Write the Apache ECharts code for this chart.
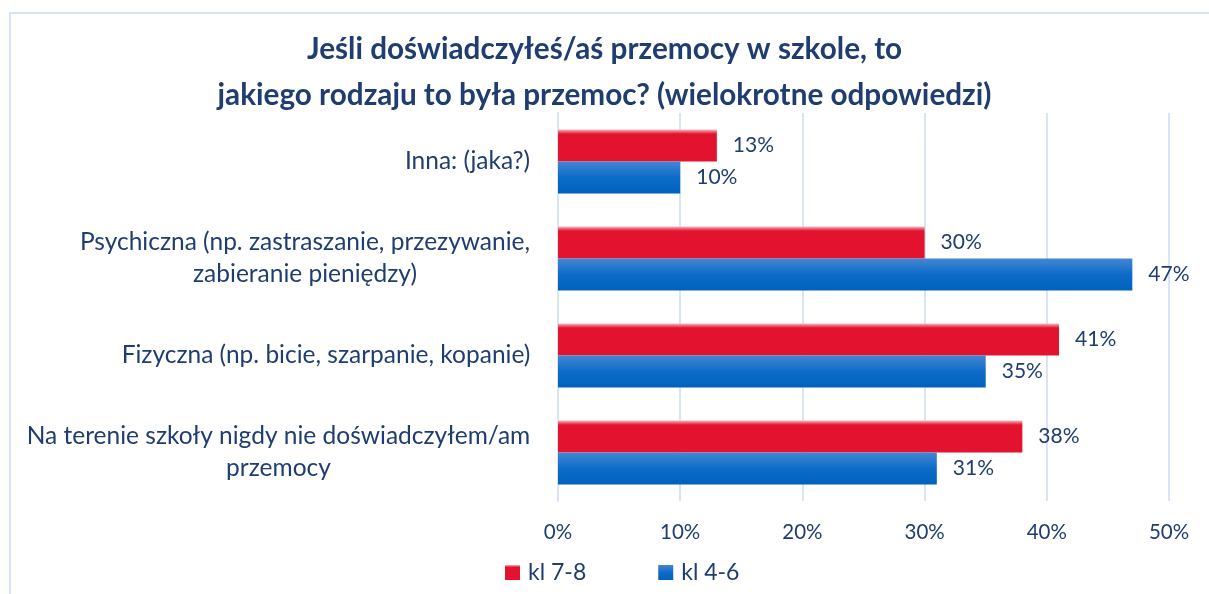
<!DOCTYPE html>
<html>
<head>
<meta charset="utf-8">
<script src="https://cdn.jsdelivr.net/npm/echarts@6/dist/echarts.min.js"></script>
<style>
  html, body { margin: 0; padding: 0; background: #fff; }
  #chart { width: 1209px; height: 594px; }
</style>
</head>
<body>
<div id="chart"></div>
<script>
// categories top -> bottom
const categories = [
  'Inna: (jaka?)',
  'Psychiczna (np. zastraszanie, przezywanie,\nzabieranie pieniędzy)',
  'Fizyczna (np. bicie, szarpanie, kopanie)',
  'Na terenie szkoły nigdy nie doświadczyłem/am\nprzemocy'
]
const kl78 = [13, 30, 41, 38]
const kl46 = [10, 47, 35, 31]
const seriesNames = ['kl 7-8', 'kl 4-6']

const textColor = '#1F3D70'
const labelFont = 'Lato'
const labelSize = 24.5

// two-line labels: lines centred on each other, block right-aligned
let ctx = document.createElement('canvas').getContext('2d')
ctx.font = labelSize + 'px ' + labelFont
let rich = {}
categories.forEach((c, i) => {
  let w = Math.max(...c.split('\n').map(l => ctx.measureText(l).width))
  rich['c' + i] = { width: Math.ceil(w) + 1, align: 'center', fontSize: labelSize, fontFamily: labelFont, color: textColor, lineHeight: 32 }
})

let chart = echarts.init(document.getElementById('chart'))
let option = {
  backgroundColor: '#fff',
  textStyle: { fontFamily: labelFont },
  title: {
    text: 'Jeśli doświadczyłeś/aś przemocy w szkole, to\njakiego rodzaju to była przemoc? (wielokrotne odpowiedzi)',
    left: 'center',
    top: 21,
    textStyle: { fontSize: 29.7, fontWeight: 'bold', color: textColor, lineHeight: 46, fontFamily: labelFont }
  },
  legend: {
    bottom: 5,
    left: 500,
    icon: 'rect',
    itemWidth: 15,
    itemHeight: 15,
    itemGap: 72,
    textStyle: { fontSize: 23, color: textColor, padding: [0, 0, 0, 3] }
  },
  graphic: [{
    type: 'polyline',
    shape: { points: [[10, 594], [10, 13], [1209, 13]] },
    style: { stroke: '#D5E3F4', lineWidth: 2, fill: null }
  }],
  grid: { left: 558, right: 40, top: 113, bottom: 93 },
  xAxis: {
    type: 'value',
    min: 0,
    max: 50,
    interval: 10,
    axisLine: { show: false },
    axisTick: { show: false },
    splitLine: { lineStyle: { color: '#D9E5F4', width: 2 } },
    axisLabel: { formatter: '{value}%', fontSize: 20.5, color: textColor, margin: 21 }
  },
  yAxis: {
    type: 'category',
    inverse: true,
    data: categories,
    axisLine: { lineStyle: { color: '#D9E5F4', width: 2 } },
    axisTick: { show: false },
    axisLabel: {
      margin: 27,
      formatter: (v, i) => v.split('\n').map(l => '{c' + i + '|' + l + '}').join('\n'),
      rich: rich
    }
  },
  series: [
    {
      name: seriesNames[0],
      type: 'bar',
      data: kl78,
      barGap: '0%',
      barCategoryGap: '34%',
      itemStyle: {
        color: new echarts.graphic.LinearGradient(0, 0, 0, 1, [
          { offset: 0, color: '#F6BCC4' },
          { offset: 0.07, color: '#EE6276' },
          { offset: 0.14, color: '#E3132F' },
          { offset: 1, color: '#E3132F' }
        ])
      },
      label: { show: true, position: 'right', distance: 16, formatter: '{c}%', fontSize: 21, color: textColor }
    },
    {
      name: seriesNames[1],
      type: 'bar',
      data: kl46,
      itemStyle: {
        color: new echarts.graphic.LinearGradient(0, 0, 0, 1, [
          { offset: 0, color: '#4586D3' },
          { offset: 0.5, color: '#0C6CC8' },
          { offset: 1, color: '#0062BC' }
        ])
      },
      label: { show: true, position: 'right', distance: 16, formatter: '{c}%', fontSize: 21, color: textColor }
    }
  ]
}
chart.setOption(option)

window.addEventListener('resize', () => {
  chart.resize()
})
</script>
</body>
</html>
